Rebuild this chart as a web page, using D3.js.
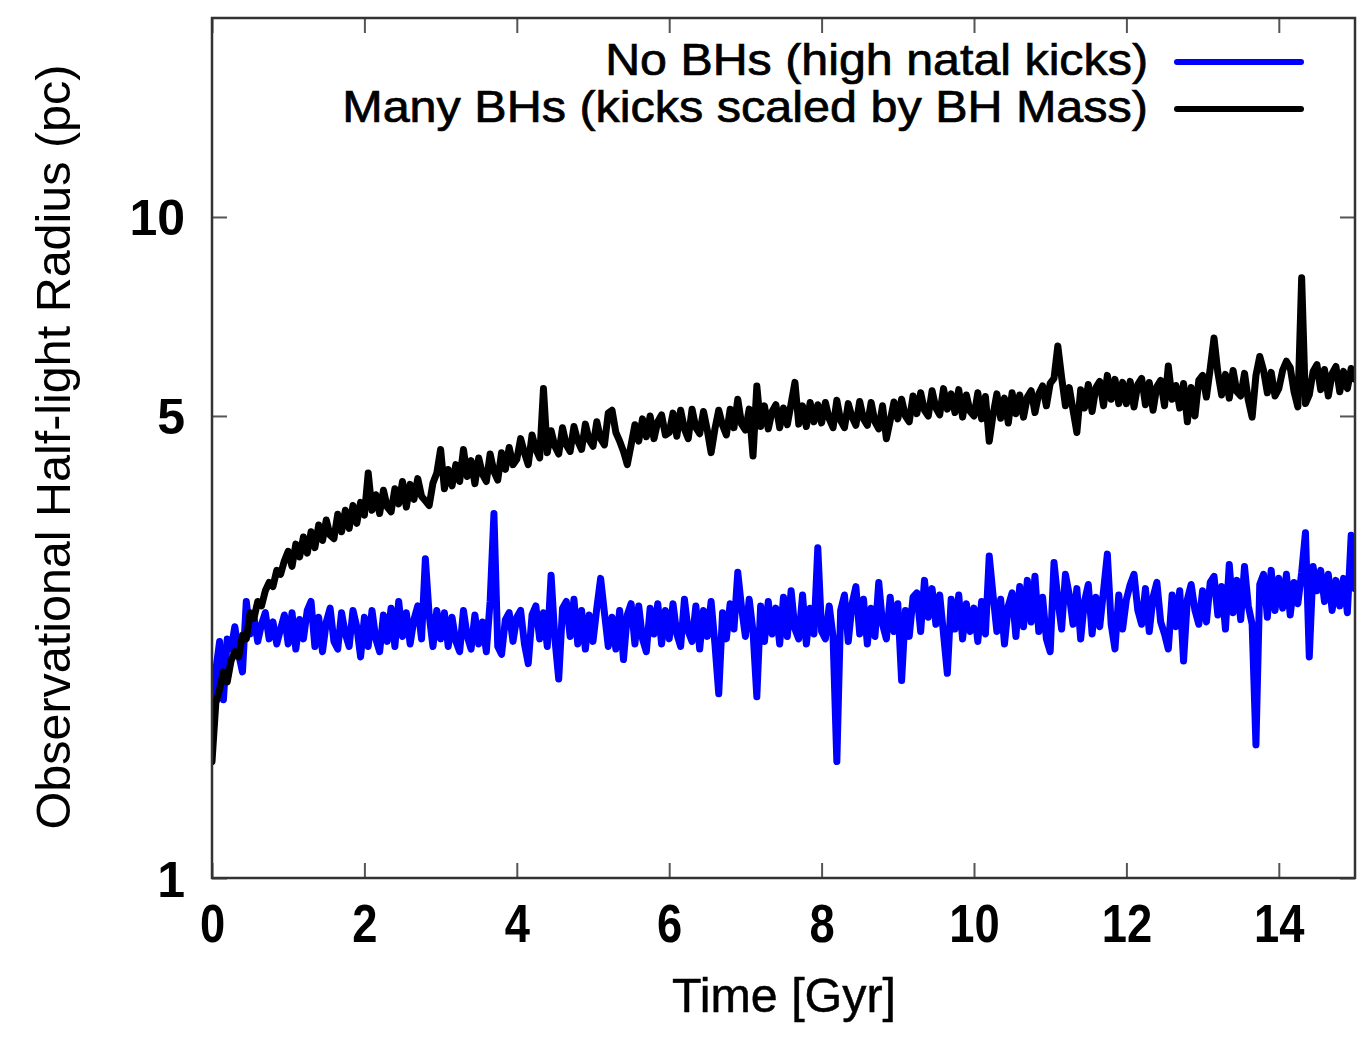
<!DOCTYPE html>
<html>
<head>
<meta charset="utf-8">
<script src="https://cdn.jsdelivr.net/npm/d3@7"></script>
<style>
  body { margin: 0; background: #fff; }
  text { font-family: "Liberation Sans", Arial, Helvetica, sans-serif; fill: #000; }
</style>
</head>
<body>
<svg id="chart" width="1358" height="1039"></svg>
<script>
// sampling step of both runs, in Gyr
const timeStep = 0.05;

// No BHs (high natal kicks), half-light radius in pc
const noBHs = [
  1.73, 2.06, 2.28, 1.86, 2.30, 2.22, 2.40, 2.18, 2.05, 2.62, 2.34, 2.48, 2.28, 2.42, 2.52, 2.30, 2.44, 2.26, 2.38, 2.50,
  2.26, 2.52, 2.22, 2.46, 2.30, 2.54, 2.62, 2.24, 2.48, 2.20, 2.44, 2.56, 2.28, 2.22, 2.52, 2.34, 2.24, 2.54, 2.40, 2.16,
  2.48, 2.24, 2.54, 2.30, 2.20, 2.50, 2.28, 2.56, 2.24, 2.62, 2.32, 2.52, 2.26, 2.46, 2.58, 2.30, 3.04, 2.50, 2.24, 2.54,
  2.30, 2.52, 2.24, 2.48, 2.28, 2.20, 2.54, 2.32, 2.22, 2.50, 2.26, 2.44, 2.20, 2.62, 3.56, 2.24, 2.18, 2.46, 2.52, 2.28,
  2.48, 2.54, 2.26, 2.11, 2.50, 2.58, 2.30, 2.52, 2.24, 2.87, 2.30, 2.00, 2.56, 2.62, 2.32, 2.64, 2.26, 2.54, 2.22, 2.50,
  2.28, 2.56, 2.84, 2.52, 2.24, 2.48, 2.22, 2.54, 2.14, 2.50, 2.60, 2.26, 2.58, 2.30, 2.20, 2.56, 2.34, 2.60, 2.26, 2.54,
  2.30, 2.60, 2.34, 2.24, 2.64, 2.36, 2.28, 2.58, 2.22, 2.54, 2.32, 2.62, 2.26, 1.90, 2.52, 2.30, 2.60, 2.38, 2.90, 2.56,
  2.32, 2.64, 2.36, 1.88, 2.58, 2.28, 2.62, 2.34, 2.56, 2.26, 2.66, 2.32, 2.72, 2.38, 2.30, 2.68, 2.26, 2.56, 2.34, 3.16,
  2.36, 2.30, 2.58, 2.32, 1.50, 2.54, 2.68, 2.28, 2.60, 2.76, 2.34, 2.64, 2.26, 2.56, 2.32, 2.80, 2.42, 2.30, 2.66, 2.36,
  2.60, 1.99, 2.54, 2.32, 2.66, 2.70, 2.36, 2.82, 2.48, 2.74, 2.42, 2.68, 2.34, 2.04, 2.64, 2.38, 2.68, 2.30, 2.60, 2.36,
  2.56, 2.28, 2.62, 2.34, 3.07, 2.68, 2.36, 2.64, 2.26, 2.58, 2.70, 2.32, 2.76, 2.40, 2.82, 2.44, 2.86, 2.36, 2.66, 2.30,
  2.20, 3.00, 2.64, 2.38, 2.88, 2.68, 2.42, 2.74, 2.30, 2.62, 2.78, 2.34, 2.66, 2.40, 2.72, 3.09, 2.42, 2.22, 2.68, 2.38,
  2.64, 2.78, 2.88, 2.54, 2.42, 2.74, 2.36, 2.66, 2.80, 2.44, 2.34, 2.22, 2.68, 2.40, 2.72, 2.13, 2.64, 2.78, 2.54, 2.42,
  2.72, 2.44, 2.80, 2.86, 2.50, 2.76, 2.38, 2.98, 2.52, 2.82, 2.46, 2.96, 2.58, 2.42, 1.59, 2.78, 2.88, 2.48, 2.92, 2.54,
  2.84, 2.56, 2.88, 2.50, 2.80, 2.60, 2.90, 3.33, 2.16, 2.96, 2.72, 2.92, 2.62, 2.88, 2.54, 2.82, 2.58, 2.84, 2.52, 3.30, 2.74
];

// Many BHs (kicks scaled by BH mass), half-light radius in pc
const manyBHs = [
  1.50, 1.84, 1.93, 2.05, 1.98, 2.13, 2.20, 2.16, 2.33, 2.30, 2.52, 2.47, 2.62, 2.58, 2.72, 2.80, 2.76, 2.92, 2.88, 3.02,
  3.12, 2.96, 3.20, 3.06, 3.28, 3.10, 3.34, 3.16, 3.42, 3.24, 3.48, 3.30, 3.26, 3.55, 3.34, 3.60, 3.38, 3.66, 3.44, 3.70,
  3.54, 4.10, 3.60, 3.80, 3.56, 3.86, 3.64, 3.58, 3.88, 3.68, 3.98, 3.64, 3.94, 3.74, 4.02, 3.78, 3.72, 3.66, 3.96, 4.10,
  4.45, 3.88, 4.15, 3.92, 4.22, 3.98, 4.45, 4.05, 4.28, 3.95, 4.32, 4.08, 3.98, 4.38, 4.12, 4.00, 4.40, 4.15, 4.48, 4.22,
  4.30, 4.62, 4.40, 4.22, 4.68, 4.45, 4.32, 5.50, 4.40, 4.75, 4.50, 4.38, 4.80, 4.52, 4.42, 4.82, 4.58, 4.45, 4.86, 4.60,
  4.50, 4.90, 4.62, 4.52, 5.05, 5.10, 4.72, 4.58, 4.42, 4.22, 4.52, 4.85, 4.58, 4.95, 4.65, 5.00, 4.62, 4.90, 5.02, 4.68,
  4.72, 5.05, 4.66, 5.10, 4.78, 4.62, 5.12, 4.80, 4.70, 5.08, 4.76, 4.40, 4.78, 5.10, 4.84, 4.68, 5.12, 4.80, 5.30, 4.86,
  4.76, 5.12, 4.35, 5.55, 4.82, 5.18, 4.78, 5.08, 5.20, 4.80, 5.14, 4.85, 5.22, 5.62, 4.86, 5.18, 4.82, 5.24, 4.90, 5.20,
  4.88, 5.24, 4.95, 4.80, 5.28, 4.92, 4.80, 5.22, 4.98, 4.84, 5.26, 4.95, 4.84, 5.24, 4.90, 4.78, 5.18, 4.62, 4.92, 5.25,
  4.95, 5.30, 5.00, 4.90, 5.36, 5.04, 5.42, 5.10, 5.00, 5.46, 5.14, 5.02, 5.50, 5.12, 5.40, 5.06, 5.48, 4.98, 5.38, 5.08,
  5.00, 5.42, 4.95, 5.35, 4.58, 5.02, 5.40, 4.96, 5.32, 4.88, 5.42, 5.04, 5.38, 4.98, 5.34, 5.46, 5.06, 5.40, 5.55, 5.18,
  5.60, 5.70, 6.38, 5.72, 5.18, 5.52, 5.10, 4.72, 5.48, 5.14, 5.58, 5.08, 5.52, 5.64, 5.18, 5.76, 5.30, 5.68, 5.22, 5.62,
  5.22, 5.64, 5.16, 5.58, 5.70, 5.20, 5.62, 5.10, 5.54, 5.66, 5.18, 5.95, 5.30, 5.56, 5.14, 5.60, 4.90, 5.52, 5.00, 5.66,
  5.76, 5.34, 5.90, 6.56, 5.82, 5.38, 5.78, 5.32, 5.86, 5.44, 5.36, 5.80, 5.28, 4.98, 5.76, 6.15, 5.86, 5.42, 5.82, 5.36,
  5.50, 5.86, 6.05, 5.92, 5.44, 5.16, 8.09, 5.22, 5.38, 5.84, 5.98, 5.48, 5.88, 5.36, 5.80, 5.94, 5.44, 5.84, 5.50, 5.90, 5.68
];

const seriesNames = ["No BHs (high natal kicks)", "Many BHs (kicks scaled by BH Mass)"];
const seriesColors = ["#0000ff", "#000000"];
const xTicks = [0, 2, 4, 6, 8, 10, 12, 14];
const yTicks = [1, 5, 10];

const svg = d3.select("#chart");
const width = 1358;
const height = 1039;
const marginLeft = 212;
const marginRight = 3;
const marginTop = 18;
const marginBottom = 161;

const x = d3.scaleLinear().domain([0, 15]).range([marginLeft, width - marginRight]);
const y = d3.scaleLog().domain([1, 20]).range([height - marginBottom, marginTop]);

svg.append("clipPath").attr("id", "plotclip")
  .append("rect")
  .attr("x", marginLeft).attr("y", marginTop)
  .attr("width", width - marginRight - marginLeft)
  .attr("height", height - marginBottom - marginTop);

// stretch a text inside its group so it spans a given width
function fitText(g, target) {
  const t = g.select("text");
  const w = t.node().getComputedTextLength();
  t.attr("transform", `scale(${target / w},1)`);
}

const tickColor = "#555";

// bottom axis with labels
const xAxis = svg.append("g")
  .attr("transform", `translate(0,${height - marginBottom})`)
  .call(d3.axisBottom(x).tickValues(xTicks).tickSizeInner(-15).tickSizeOuter(0).tickPadding(26));
xAxis.select(".domain").remove();
xAxis.selectAll("line").attr("stroke", tickColor).attr("stroke-width", 2);
xAxis.selectAll("text")
  .attr("font-size", 54)
  .attr("font-weight", "bold")
  .attr("transform", "scale(0.84,1)");

// top mirror ticks
const xTop = svg.append("g")
  .attr("transform", `translate(0,${marginTop})`)
  .call(d3.axisTop(x).tickValues(xTicks).tickSizeInner(-15).tickSizeOuter(0).tickFormat(""));
xTop.select(".domain").remove();
xTop.selectAll("line").attr("stroke", tickColor).attr("stroke-width", 2);

// left axis with labels
const yAxis = svg.append("g")
  .attr("transform", `translate(${marginLeft},0)`)
  .call(d3.axisLeft(y).tickValues(yTicks).tickFormat(d3.format("d")).tickSizeInner(-15).tickSizeOuter(0).tickPadding(27));
yAxis.select(".domain").remove();
yAxis.selectAll("line").attr("stroke", tickColor).attr("stroke-width", 2);
yAxis.selectAll("text")
  .attr("font-size", 50)
  .attr("font-weight", "bold")
  .attr("dy", "0.36em");

// right mirror ticks
const yRight = svg.append("g")
  .attr("transform", `translate(${width - marginRight},0)`)
  .call(d3.axisRight(y).tickValues(yTicks).tickSizeInner(-15).tickSizeOuter(0).tickFormat(""));
yRight.select(".domain").remove();
yRight.selectAll("line").attr("stroke", tickColor).attr("stroke-width", 2);

// series
const line = d3.line()
  .x((d, i) => x(i * timeStep))
  .y(d => y(d));

const plot = svg.append("g").attr("clip-path", "url(#plotclip)");
[noBHs, manyBHs].forEach((values, k) => {
  plot.append("path")
    .datum(values)
    .attr("fill", "none")
    .attr("stroke", seriesColors[k])
    .attr("stroke-width", 7)
    .attr("stroke-linejoin", "round")
    .attr("stroke-linecap", "round")
    .attr("d", line);
});

// frame
svg.append("rect")
  .attr("x", marginLeft).attr("y", marginTop)
  .attr("width", width - marginRight - marginLeft)
  .attr("height", height - marginBottom - marginTop)
  .attr("fill", "none")
  .attr("stroke", "#333")
  .attr("stroke-width", 2.5);

// legend
const legendRows = [
  { name: seriesNames[0], color: seriesColors[0], y: 75, w: 543 },
  { name: seriesNames[1], color: seriesColors[1], y: 122, w: 806 }
];
legendRows.forEach(r => {
  const g = svg.append("g").attr("transform", `translate(1148,${r.y})`);
  g.append("text")
    .attr("text-anchor", "end")
    .attr("font-size", 44)
    .attr("stroke", "#000")
    .attr("stroke-width", 0.7)
    .text(r.name);
  fitText(g, r.w);
  svg.append("line")
    .attr("x1", 1177).attr("x2", 1301)
    .attr("y1", r.y - 13).attr("y2", r.y - 13)
    .attr("stroke", r.color)
    .attr("stroke-width", 6)
    .attr("stroke-linecap", "round");
});

// axis titles
const xTitle = svg.append("g").attr("transform", "translate(784,1012)");
xTitle.append("text")
  .attr("text-anchor", "middle")
  .attr("font-size", 48)
  .attr("stroke", "#000")
  .attr("stroke-width", 0.5)
  .text("Time [Gyr]");
fitText(xTitle, 224);

const yTitle = svg.append("g").attr("transform", "translate(70,447) rotate(-90)");
yTitle.append("text")
  .attr("text-anchor", "middle")
  .attr("font-size", 48)
  .text("Observational Half-light Radius (pc)");
fitText(yTitle, 765);
</script>
</body>
</html>
